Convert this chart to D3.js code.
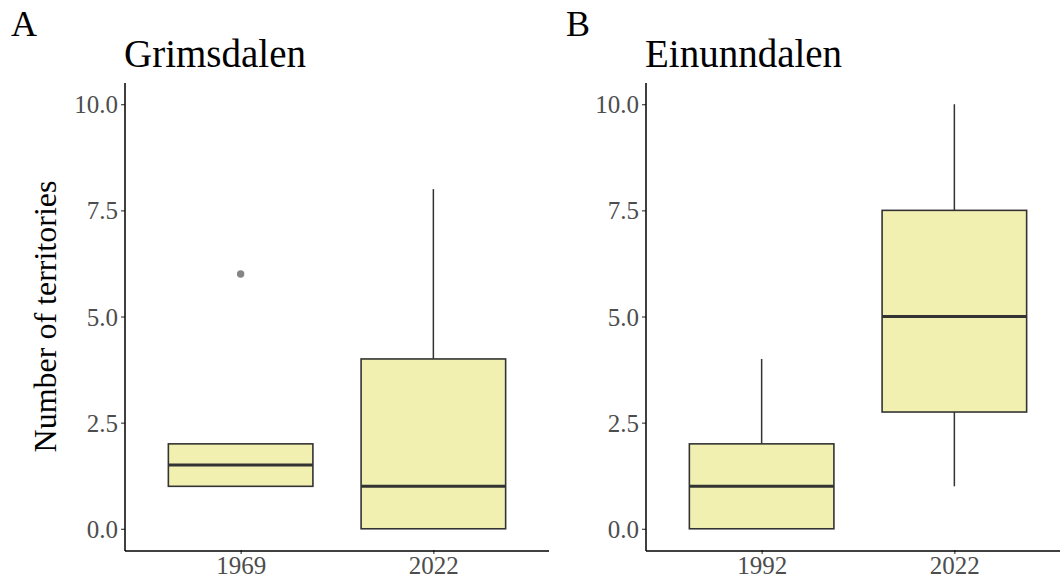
<!DOCTYPE html>
<html>
<head>
<meta charset="utf-8">
<script src="https://cdn.jsdelivr.net/npm/d3@7"></script>
<style>
  body { margin: 0; background: #fff; }
  svg, svg text { font-family: "Liberation Serif", "Times New Roman", serif; }
</style>
</head>
<body>
<svg width="1060" height="583"></svg>
<script>
// panel titles and tags
var panelTags = ["A", "B"];
var panelTitles = ["Grimsdalen", "Einunndalen"];
// years per panel
var yearsA = ["1969", "2022"];
var yearsB = ["1992", "2022"];
// box stats [lower whisker, q1, median, q3, upper whisker]
var statsA = [[1, 1, 1.5, 2, 2], [0, 0, 1, 4, 8]];
var statsB = [[0, 0, 1, 2, 4], [1, 2.75, 5, 7.5, 10]];
var outliersA = [[6], []];
var outliersB = [[], []];
var yTicks = [0, 2.5, 5, 7.5, 10];

var svg = d3.select("svg");

var panels = [
  {tag: panelTags[0], title: panelTitles[0], years: yearsA, stats: statsA, out: outliersA, left: 125, right: 549, tagX: 11},
  {tag: panelTags[1], title: panelTitles[1], years: yearsB, stats: statsB, out: outliersB, left: 646, right: 1070, tagX: 566}
];

var plotTop = 83, plotBottom = 550;

var y = d3.scaleLinear().domain([-0.5, 10.5]).range([plotBottom, plotTop]);

panels.forEach(function(p) {
  var g = svg.append("g");
  // discrete scale, ggplot style expansion of 0.6
  var x = d3.scaleLinear().domain([0.4, 2.6]).range([p.left, p.right]);
  var boxW = (x(1.75) - x(1));

  // y axis
  var yAxis = d3.axisLeft(y).tickValues(yTicks).tickSize(4).tickPadding(3)
    .tickFormat(d3.format(".1f"));
  var ya = g.append("g").attr("transform", "translate(" + p.left + ",0)").call(yAxis)
    .attr("font-family", null).attr("font-size", null);
  ya.select(".domain").remove();
  ya.selectAll(".tick line").attr("stroke", "#333").attr("stroke-width", 1.1);
  ya.selectAll(".tick text").attr("fill", "#4d4d4d").style("font-size", "25px").attr("dy", "0.34em");
  g.append("line").attr("x1", p.left).attr("x2", p.left).attr("y1", plotTop).attr("y2", plotBottom + 1)
    .attr("stroke", "#000").attr("stroke-width", 1.5);

  // x axis
  var xAxis = d3.axisBottom(x).tickValues([1, 2]).tickSize(4).tickPadding(2)
    .tickFormat(function(d) { return p.years[d - 1]; });
  var xa = g.append("g").attr("transform", "translate(0," + plotBottom + ")").call(xAxis)
    .attr("font-family", null).attr("font-size", null);
  xa.select(".domain").remove();
  xa.selectAll(".tick line").attr("stroke", "#333").attr("stroke-width", 1.1);
  xa.selectAll(".tick text").attr("fill", "#4d4d4d").style("font-size", "25px");
  g.append("line").attr("x1", p.left).attr("x2", p.right).attr("y1", plotBottom + 1).attr("y2", plotBottom + 1)
    .attr("stroke", "#000").attr("stroke-width", 1.5);

  // boxes
  p.stats.forEach(function(s, i) {
    var cx = x(i + 1);
    // whiskers
    g.append("line").attr("x1", cx).attr("x2", cx).attr("y1", y(s[3])).attr("y2", y(s[4]))
      .attr("stroke", "#333").attr("stroke-width", 1.5);
    g.append("line").attr("x1", cx).attr("x2", cx).attr("y1", y(s[1])).attr("y2", y(s[0]))
      .attr("stroke", "#333").attr("stroke-width", 1.5);
    g.append("rect")
      .attr("x", cx - boxW / 2).attr("width", boxW)
      .attr("y", y(s[3])).attr("height", y(s[1]) - y(s[3]))
      .attr("fill", "#f2f0b1").attr("stroke", "#333").attr("stroke-width", 1.6);
    g.append("line").attr("x1", cx - boxW / 2).attr("x2", cx + boxW / 2)
      .attr("y1", y(s[2])).attr("y2", y(s[2]))
      .attr("stroke", "#333").attr("stroke-width", 3);
    p.out[i].forEach(function(o) {
      g.append("circle").attr("cx", cx).attr("cy", y(o)).attr("r", 3.7).attr("fill", "#858585");
    });
  });

  // title and tag
  g.append("text").attr("x", p.left - 1).attr("y", 67).text(p.title)
    .style("font-size", "39px").attr("fill", "#000");
  g.append("text").attr("x", p.tagX).attr("y", 36).text(p.tag)
    .style("font-size", "36px").attr("fill", "#000");
});

// shared y label
svg.append("text")
  .attr("transform", "translate(56," + ((plotTop + plotBottom) / 2) + ") rotate(-90)")
  .attr("text-anchor", "middle")
  .style("font-size", "32px")
  .text("Number of territories");
</script>
</body>
</html>
